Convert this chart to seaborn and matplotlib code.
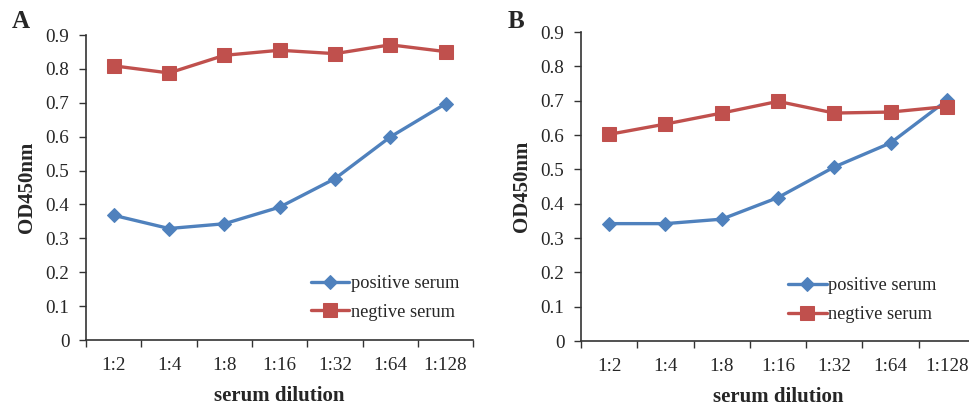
import matplotlib
matplotlib.use("Agg")
import matplotlib.pyplot as plt
import numpy as np
import pandas as pd
import seaborn as sns

dilutions = ["1:2", "1:4", "1:8", "1:16", "1:32", "1:64", "1:128"]
y_ticks = [0, 0.1, 0.2, 0.3, 0.4, 0.5, 0.6, 0.7, 0.8, 0.9]
y_tick_labels = ["0", "0.1", "0.2", "0.3", "0.4", "0.5", "0.6", "0.7", "0.8", "0.9"]

# panel A
pos_a = [0.368, 0.329, 0.343, 0.392, 0.476, 0.599, 0.697]
neg_a = [0.809, 0.788, 0.840, 0.855, 0.845, 0.871, 0.851]
# panel B
pos_b = [0.342, 0.342, 0.355, 0.418, 0.507, 0.577, 0.701]
neg_b = [0.602, 0.632, 0.664, 0.698, 0.664, 0.667, 0.683]

sns.set_style("white")
plt.rcParams["font.family"] = ["Liberation Serif", "DejaVu Serif"]

blue = "#4F81BD"
red = "#C0504D"

fig = plt.figure(figsize=(9.69, 4.07), dpi=100)
ax_a = fig.add_axes([0.0888, 0.1646, 0.3995, 0.7494])
ax_b = fig.add_axes([0.5996, 0.1620, 0.4066, 0.7593])


def draw_panel(ax, pos, neg, legend_xy):
    x = np.arange(len(dilutions))
    sns.lineplot(x=x, y=pos, ax=ax, color=blue, marker="D", markersize=7.5,
                 markeredgecolor=blue, linewidth=2.4, label="positive serum")
    sns.lineplot(x=x, y=neg, ax=ax, color=red, marker="s", markersize=10,
                 markeredgecolor=red, linewidth=2.4, label="negtive serum")
    ax.set_xlim(-0.5, len(dilutions) - 0.5)
    ax.set_ylim(0, 0.9)
    ax.set_xticks(x)
    ax.set_xticklabels(dilutions, fontsize=13.8)
    ax.set_xticks(np.arange(len(dilutions) + 1) - 0.5, minor=True)
    ax.set_yticks(y_ticks)
    ax.set_yticklabels(y_tick_labels, fontsize=13.8)
    ax.tick_params(axis="x", which="major", length=0, pad=12)
    ax.tick_params(axis="x", which="minor", length=5, width=1, direction="out",
                   bottom=True, color="#333333")
    ax.tick_params(axis="y", length=5, width=1, direction="out", left=True,
                   pad=7, color="#333333")
    for s in ["top", "right"]:
        ax.spines[s].set_visible(False)
    for s in ["left", "bottom"]:
        ax.spines[s].set_color("#333333")
        ax.spines[s].set_linewidth(1.2)
    ax.set_xlabel("serum dilution", fontsize=15, fontweight="bold", labelpad=9)
    ax.set_ylabel("OD450nm", fontsize=15, fontweight="bold", labelpad=6)
    ax.legend(loc="center left", bbox_to_anchor=legend_xy, frameon=False,
              fontsize=13.2, handlelength=2.1, handletextpad=0.1,
              labelspacing=0.65, borderaxespad=0)
    ax.grid(False)


draw_panel(ax_a, pos_a, neg_a, (0.562, 0.138))
draw_panel(ax_b, pos_b, neg_b, (0.507, 0.133))

fig.text(0.021, 0.948, "A", fontsize=18, fontweight="bold", ha="center", va="center")
fig.text(0.532, 0.948, "B", fontsize=18, fontweight="bold", ha="center", va="center")

fig.savefig("out.png", dpi=100)
